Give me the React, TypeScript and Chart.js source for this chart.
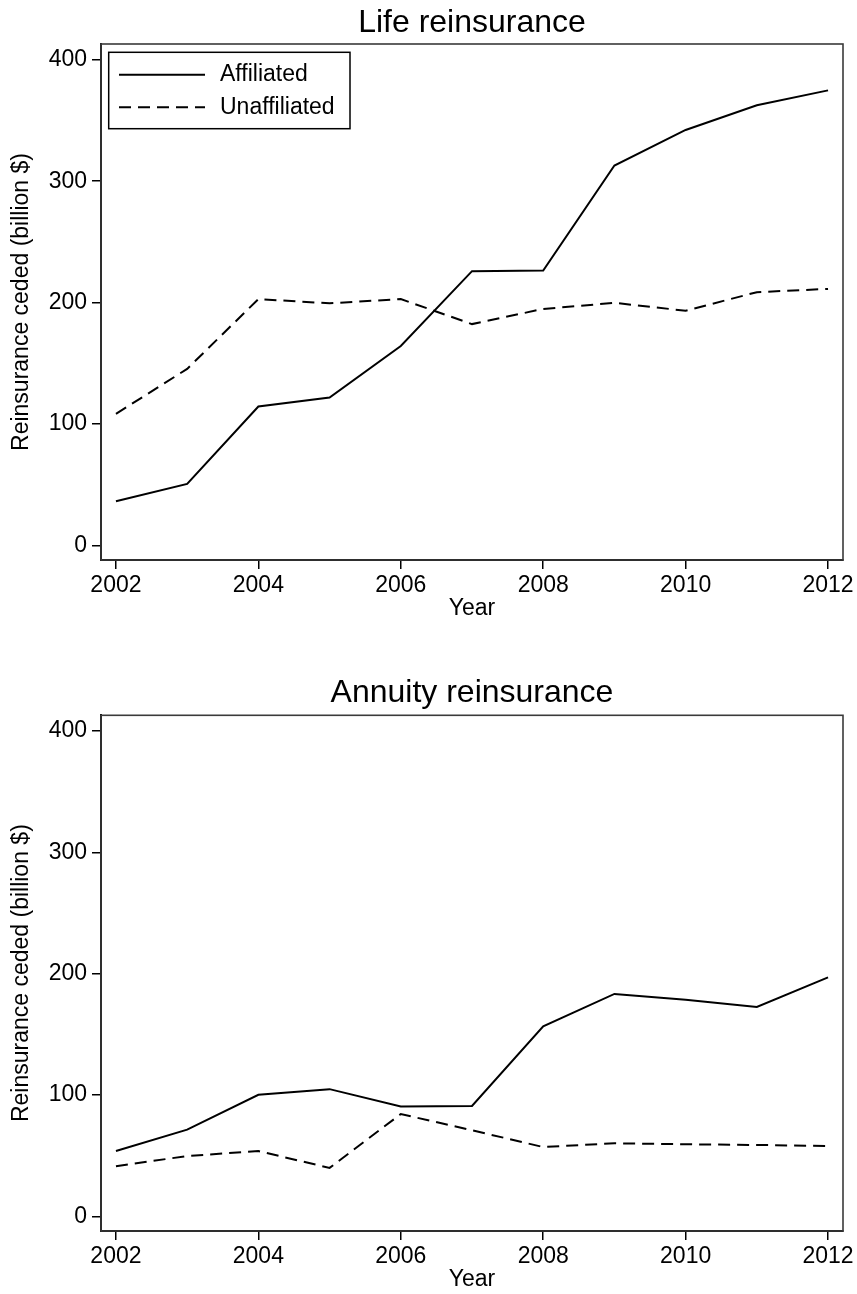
import React, { useEffect, useRef } from "react";
import { Chart, registerables } from "chart.js";

Chart.register(...registerables);

const years = [2002, 2003, 2004, 2005, 2006, 2007, 2008, 2009, 2010, 2011, 2012];
const lifeAffiliated = [36.4, 50.7, 114.4, 121.8, 164.3, 225.9, 226.4, 312.9, 342.2, 362.5, 374.8];
const lifeUnaffiliated = [108.4, 145.4, 202.9, 199.4, 202.9, 182.3, 194.8, 199.8, 193.3, 208.6, 211.3];
const annuityAffiliated = [53.9, 71.5, 100.3, 104.9, 90.7, 91.0, 156.7, 183.4, 178.5, 172.7, 197.0];
const annuityUnaffiliated = [41.4, 49.8, 53.9, 40.0, 84.4, 71.0, 57.2, 60.3, 59.5, 58.9, 58.1];
const yTicks = [0, 100, 200, 300, 400];
const xTicks = [2002, 2004, 2006, 2008, 2010, 2012];
const seriesLabels = ["Affiliated", "Unaffiliated"];
const yAxisTitle = "Reinsurance ceded (billion $)";
const xAxisTitle = "Year";

const FONT = '"Liberation Sans", Arial, Helvetica, sans-serif';
const FS = 23;
const W = 857;
const H = 647;
const DASH = [12, 7];

type PanelProps = {
  title: string;
  affiliated: number[];
  unaffiliated: number[];
  showLegend: boolean;
  areaTop: number;
  areaBottom: number;
  titleBaseline: number;
  xTitlePadBottom: number;
};

function Panel(props: PanelProps) {
  const ref = useRef<HTMLCanvasElement | null>(null);
  useEffect(() => {
    const canvas = ref.current;
    if (!canvas) return;
    const { title, affiliated, unaffiliated, showLegend, areaTop, areaBottom, titleBaseline, xTitlePadBottom } = props;

    const framePlugin = {
      id: "framePlugin",
      beforeDatasetsDraw(chart: any) {
        const { ctx, chartArea } = chart;
        ctx.save();
        ctx.strokeStyle = "#3a3a3a";
        ctx.lineWidth = 1.6;
        ctx.strokeRect(chartArea.left, chartArea.top, chartArea.right - chartArea.left, chartArea.bottom - chartArea.top);
        ctx.restore();
      },
      afterDraw(chart: any) {
        const { ctx, chartArea } = chart;
        ctx.save();
        ctx.fillStyle = "#000";
        ctx.font = `32px ${FONT}`;
        ctx.textAlign = "center";
        ctx.textBaseline = "alphabetic";
        ctx.fillText(title, (chartArea.left + chartArea.right) / 2, titleBaseline);
        if (showLegend) {
          const bx = chartArea.left + 7.7;
          const by = chartArea.top + 8.3;
          ctx.strokeStyle = "#000";
          ctx.lineWidth = 1.5;
          ctx.setLineDash([]);
          ctx.strokeRect(bx, by, 241.3, 76.4);
          const rows = [by + 22.4, by + 55];
          chart.data.datasets.forEach((ds: any, i: number) => {
            ctx.save();
            ctx.strokeStyle = "#000";
            ctx.lineWidth = 2;
            ctx.setLineDash(ds.borderDash || []);
            ctx.beginPath();
            ctx.moveTo(bx + 10.3, rows[i]);
            ctx.lineTo(bx + 96.3, rows[i]);
            ctx.stroke();
            ctx.restore();
            ctx.fillStyle = "#000";
            ctx.font = `${FS}px ${FONT}`;
            ctx.textAlign = "left";
            ctx.textBaseline = "middle";
            ctx.fillText(ds.label, bx + 111.3, rows[i]);
          });
        }
        ctx.restore();
      },
    };

    const chart = new Chart(canvas, {
      type: "line",
      data: {
        datasets: [
          {
            label: seriesLabels[0],
            data: years.map((yr, i) => ({ x: yr, y: affiliated[i] })),
            borderColor: "#000",
            borderWidth: 2,
            pointRadius: 0,
            tension: 0,
            fill: false,
          },
          {
            label: seriesLabels[1],
            data: years.map((yr, i) => ({ x: yr, y: unaffiliated[i] })),
            borderColor: "#000",
            borderWidth: 2,
            borderDash: DASH,
            pointRadius: 0,
            tension: 0,
            fill: false,
          },
        ],
      },
      options: {
        responsive: false,
        animation: false,
        events: [],
        layout: { padding: { top: areaTop, right: 14, left: 0, bottom: 0 } },
        plugins: {
          legend: { display: false },
          title: { display: false },
          tooltip: { enabled: false },
        },
        scales: {
          x: {
            type: "linear",
            min: 2001.79,
            max: 2012.21,
            afterBuildTicks: (s: any) => {
              s.ticks = xTicks.map((v) => ({ value: v }));
            },
            afterFit: (s: any) => {
              s.height = H - areaBottom;
            },
            grid: {
              display: true,
              drawOnChartArea: false,
              drawTicks: true,
              tickLength: 9,
              tickColor: "#000",
              tickWidth: 1.5,
              lineWidth: 1.5,
              color: "#000",
            },
            border: { display: true, color: "#000", width: 2 },
            ticks: {
              color: "#000",
              font: { family: FONT, size: FS },
              padding: 3,
              maxRotation: 0,
              autoSkip: false,
              callback: (v: any) => String(v),
            },
            title: {
              display: true,
              text: xAxisTitle,
              color: "#000",
              font: { family: FONT, size: FS },
              padding: { top: 0, bottom: xTitlePadBottom },
            },
          },
          y: {
            type: "linear",
            min: -12,
            max: 413,
            afterBuildTicks: (s: any) => {
              s.ticks = yTicks.map((v) => ({ value: v }));
            },
            afterFit: (s: any) => {
              s.width = 101;
            },
            grid: {
              display: true,
              drawOnChartArea: false,
              drawTicks: true,
              tickLength: 9,
              tickColor: "#000",
              tickWidth: 1.5,
              lineWidth: 1.5,
              color: "#000",
            },
            border: { display: true, color: "#000", width: 2 },
            ticks: {
              color: "#000",
              font: { family: FONT, size: FS },
              padding: 5,
              autoSkip: false,
              callback: (v: any) => String(v),
            },
            title: {
              display: true,
              text: yAxisTitle,
              color: "#000",
              font: { family: FONT, size: FS },
              padding: { top: 8, bottom: 0 },
            },
          },
        },
      } as any,
      plugins: [framePlugin],
    });
    return () => chart.destroy();
  }, []);
  return <canvas ref={ref} width={W} height={H} style={{ display: "block", width: W, height: H }} />;
}

export default function App() {
  return (
    <div style={{ position: "absolute", left: 0, top: 0, width: W, height: 1294, background: "#fff" }}>
      <Panel
        title="Life reinsurance"
        affiliated={lifeAffiliated}
        unaffiliated={lifeUnaffiliated}
        showLegend={true}
        areaTop={44}
        areaBottom={560}
        titleBaseline={31.7}
        xTitlePadBottom={24.4}
      />
      <Panel
        title="Annuity reinsurance"
        affiliated={annuityAffiliated}
        unaffiliated={annuityUnaffiliated}
        showLegend={false}
        areaTop={68.3}
        areaBottom={584}
        titleBaseline={54.7}
        xTitlePadBottom={0.4}
      />
    </div>
  );
}
